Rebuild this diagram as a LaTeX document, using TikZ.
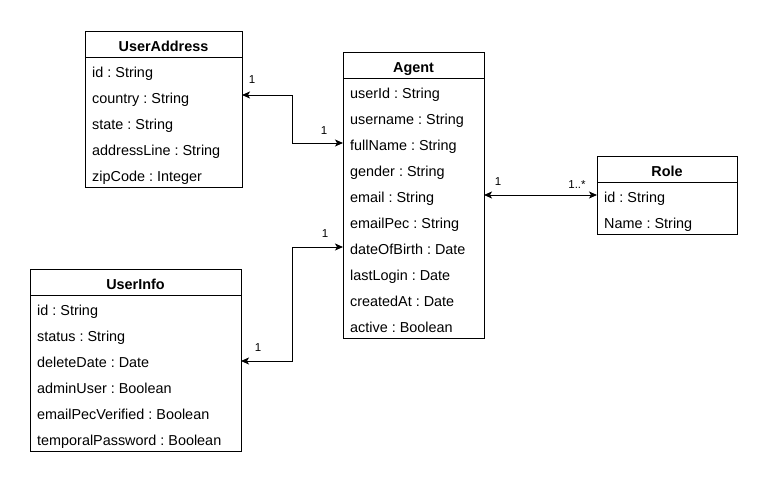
\documentclass[tikz,border=0pt]{standalone}
\usepackage{fontspec}
\setmainfont{Liberation Sans}
\usetikzlibrary{arrows.meta,calc}
\frenchspacing
\tikzset{
  classbox/.style={draw=black, fill=white, line width=1pt, inner sep=0pt, outer sep=0pt, anchor=north west},
  classline/.style={draw=black, line width=1pt},
  titletext/.style={inner sep=0pt, anchor=base, font=\fontsize{14.4}{17}\selectfont\bfseries},
  rowtext/.style={inner sep=0pt, anchor=base west, font=\fontsize{14.4}{17}\selectfont},
  assoc/.style={draw=black, line width=1pt, {Stealth[length=8pt,width=7pt,inset=2pt]}-{Stealth[length=8pt,width=7pt,inset=2pt]}},
  mult/.style={inner sep=0pt, font=\fontsize{11.5}{13}\selectfont},
}
% #1 name, #2 x, #3 y (top), #4 width, #5 rows count, #6 title, #7 rows
\newcommand\umlclass[7]{%
  \node[classbox, minimum width=#4pt, minimum height={26*(#5+1)*1pt}] (#1) at (#2,#3) {};
  \draw[classline] ($(#1.north west)+(0,26)$) -- ($(#1.north east)+(0,26)$);
  \node[titletext] (#1-title) at ($(#1.north)+(0,20)$) {#6};
  \foreach \t [count=\i] in {#7} {
    \node[rowtext] (#1-\i) at ($(#1.north west)+(7,{20+26*\i})$) {\t};
  }
}
\begin{document}
\begin{tikzpicture}[x=1pt,y=-1pt]
\useasboundingbox[fill=white] (0,0) rectangle (768,485);

\umlclass{ua}{85}{31}{157}{5}{UserAddress}{id : String,country : String,state : String,addressLine : String,zipCode : Integer}
\umlclass{ag}{343}{52}{141}{10}{Agent}{userId : String,username : String,fullName : String,gender : String,email : String,emailPec : String,dateOfBirth : Date,lastLogin : Date,createdAt : Date,active : Boolean}
\umlclass{ro}{597}{156}{140}{2}{Role}{id : String,Name : String}
\umlclass{ui}{30}{269}{211}{6}{UserInfo}{id : String,status : String,deleteDate : Date,adminUser : Boolean,emailPecVerified : Boolean,temporalPassword : Boolean}

% connector endpoints
\coordinate (uaE) at ($(ua.north east)+(0,64)$);
\coordinate (agW1) at ($(ag.north west)+(0,91)$);
\coordinate (agE) at ($(ag.north east)+(0,143)$);
\coordinate (roW) at ($(ro.north west)+(0,39)$);
\coordinate (agW2) at ($(ag.north west)+(0,195)$);
\coordinate (uiE) at ($(ui.north east)+(0,92)$);

\draw[assoc] (uaE) -- (uaE -| 292,0) -- (agW1 -| 292,0) -- (agW1);
\draw[assoc] (agE) -- (roW);
\draw[assoc] (uiE) -- (uiE -| 292,0) -- (agW2 -| 292,0) -- (agW2);

\node[mult] (m1) at ($(uaE)+(10,-15)$) {1};
\node[mult] (m2) at ($(agW1)+(-19,-12)$) {1};
\node[mult] (m3) at ($(agE)+(14,-13)$) {1};
\node[mult] (m4) at ($(roW)+(-20,-10)$) {1..*};
\node[mult] (m5) at ($(agW2)+(-18,-13)$) {1};
\node[mult] (m6) at ($(uiE)+(17,-13)$) {1};
\end{tikzpicture}
\end{document}
